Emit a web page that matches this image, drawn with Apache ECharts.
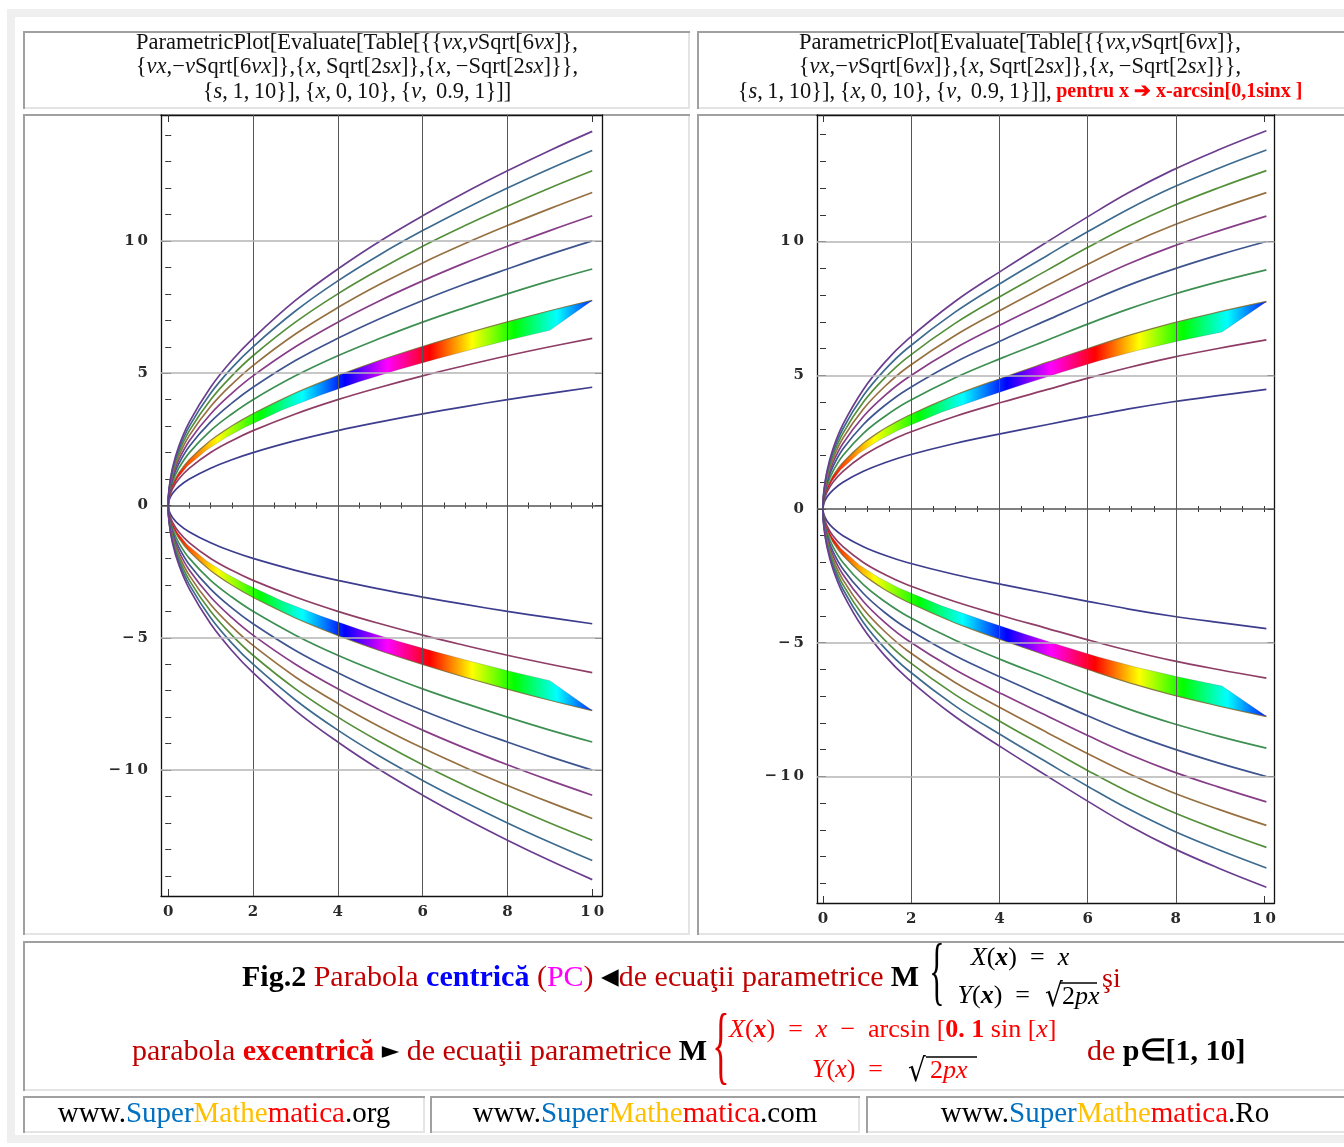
<!DOCTYPE html>
<html><head><meta charset="utf-8">
<script src="https://cdn.jsdelivr.net/npm/echarts@6/dist/echarts.min.js"></script>
<style>html,body{margin:0;padding:0;background:#fff}#c{width:1344px;height:1147px}</style>
</head><body><div id="c"></div>
<script>
// ---------------- data ----------------
const xSamples        = [0, 0.02, 0.1, 0.25, 0.5, 1, 1.5, 2, 3, 4, 5, 6, 7, 8, 9, 10];
const xSamplesShifted = [0, 0.018, 0.09, 0.225, 0.452, 0.916, 1.4, 1.909, 2.986, 4.076, 5.096, 6.028, 6.934, 7.901, 8.959, 10.054];
const curveS1  = [0, 0.2, 0.45, 0.71, 1, 1.41, 1.73, 2, 2.45, 2.83, 3.16, 3.46, 3.74, 4, 4.24, 4.47];
const curveS2  = [0, 0.28, 0.63, 1, 1.41, 2, 2.45, 2.83, 3.46, 4, 4.47, 4.9, 5.29, 5.66, 6, 6.32];
const curveS3  = [0, 0.35, 0.77, 1.22, 1.73, 2.45, 3, 3.46, 4.24, 4.9, 5.48, 6, 6.48, 6.93, 7.35, 7.75];
const curveS4  = [0, 0.4, 0.89, 1.41, 2, 2.83, 3.46, 4, 4.9, 5.66, 6.32, 6.93, 7.48, 8, 8.49, 8.94];
const curveS5  = [0, 0.45, 1, 1.58, 2.24, 3.16, 3.87, 4.47, 5.48, 6.32, 7.07, 7.75, 8.37, 8.94, 9.49, 10];
const curveS6  = [0, 0.49, 1.1, 1.73, 2.45, 3.46, 4.24, 4.9, 6, 6.93, 7.75, 8.49, 9.17, 9.8, 10.39, 10.95];
const curveS7  = [0, 0.53, 1.18, 1.87, 2.65, 3.74, 4.58, 5.29, 6.48, 7.48, 8.37, 9.17, 9.9, 10.58, 11.22, 11.83];
const curveS8  = [0, 0.57, 1.26, 2, 2.83, 4, 4.9, 5.66, 6.93, 8, 8.94, 9.8, 10.58, 11.31, 12, 12.65];
const curveS9  = [0, 0.6, 1.34, 2.12, 3, 4.24, 5.2, 6, 7.35, 8.49, 9.49, 10.39, 11.22, 12, 12.73, 13.42];
const curveS10 = [0, 0.63, 1.41, 2.24, 3.16, 4.47, 5.48, 6.32, 7.75, 8.94, 10, 10.95, 11.83, 12.65, 13.42, 14.14];
const bandUpperY        = [0, 0.35, 0.77, 1.22, 1.73, 2.45, 3, 3.46, 4.24, 4.9, 5.48, 6, 6.48, 6.93, 7.35, 7.75];
const bandLowerX        = [0, 0.018, 0.09, 0.225, 0.45, 0.9, 1.35, 1.8, 2.7, 3.6, 4.5, 5.4, 6.3, 7.2, 8.1, 9];
const bandLowerXShifted = [0, 0.016, 0.081, 0.203, 0.407, 0.824, 1.26, 1.718, 2.687, 3.668, 4.586, 5.425, 6.241, 7.111, 8.063, 9.049];
const bandLowerY        = [0, 0.3, 0.66, 1.04, 1.48, 2.09, 2.56, 2.95, 3.62, 4.18, 4.68, 5.12, 5.53, 5.92, 6.28, 6.62];
const xMajorTicks = [0, 2, 4, 6, 8, 10];
const xMinorTicks = [0, 0.5, 1, 1.5, 2, 2.5, 3, 3.5, 4, 4.5, 5, 5.5, 6, 6.5, 7, 7.5, 8, 8.5, 9, 9.5, 10];
const yMajorTicks = [-10, -5, 0, 5, 10];
const yMinorTicks = [-14, -13, -12, -11, -10, -9, -8, -7, -6, -5, -4, -3, -2, -1, 0, 1, 2, 3, 4, 5, 6, 7, 8, 9, 10, 11, 12, 13, 14];
const gridXValues = [2, 4, 6, 8];
const gridYValues = [-10, -5, 5, 10];

// ---------------- styles ----------------
const curves = [curveS1, curveS2, curveS3, curveS4, curveS5, curveS6, curveS7, curveS8, curveS9, curveS10];
const curveColors = ['#3d3d8f', '#8f3d66', '#8f833d', '#3d8f52', '#3d548f', '#873d87', '#967040', '#548f3a', '#3d6b8f', '#6b3d8f'];

const chart = echarts.init(document.getElementById('c'), null, {renderer: 'canvas', width: 1344, height: 1147});

const panels = [
  {grid: {left: 161, top: 115, width: 441, height: 781}, xmin: -0.17, xmax: 10.23, ymin: -14.76, ymax: 14.76, xs: xSamples, bandLX: bandLowerX},
  {grid: {left: 817, top: 115, width: 457.5, height: 788}, xmin: -0.136, xmax: 10.238, ymin: -14.73, ymax: 14.73, xs: xSamplesShifted, bandLX: bandLowerXShifted}
];

function spaced(v) {
  const s = String(Math.abs(v)).split('').join('\u2009');
  return v < 0 ? '\u2212\u2009' + s : s;
}
const labelStyle = {fontFamily: 'DejaVu Serif', fontSize: 15, fontWeight: 'bold', color: '#2a2a2a'};
const frameLine = {show: true, onZero: false, lineStyle: {color: '#111', width: 1.3}};

const grids = [], xAxes = [], yAxes = [], series = [];

const hueStops = [];
for (let i = 0; i <= 60; i++) {
  const h = ((60 * (i / 6) - 10) % 360 + 360) % 360;
  hueStops.push({offset: i / 60, color: 'hsl(' + h + ',100%,50%)'});
}

panels.forEach((p, gi) => {
  grids.push(p.grid);
  const base = gi * 4;
  const xa = (pos, major, showLine, showLabel) => ({
    type: 'value', gridIndex: gi, position: pos, min: p.xmin, max: p.xmax,
    axisLine: showLine ? frameLine : {show: false},
    axisTick: {show: true, inside: true, length: major ? 7 : 3, customValues: major ? xMajorTicks : xMinorTicks, lineStyle: {color: '#333', width: 1}},
    axisLabel: showLabel ? Object.assign({show: true, margin: 9, customValues: xMajorTicks, formatter: spaced}, labelStyle) : {show: false},
    splitLine: {show: false}
  });
  const ya = (pos, major, showLine, showLabel) => ({
    type: 'value', gridIndex: gi, position: pos, min: p.ymin, max: p.ymax,
    axisLine: showLine ? frameLine : {show: false},
    axisTick: {show: true, inside: true, length: major ? 7 : 3, customValues: major ? yMajorTicks : yMinorTicks, lineStyle: {color: '#333', width: 1}},
    axisLabel: showLabel ? Object.assign({show: true, margin: 13, customValues: yMajorTicks, formatter: spaced}, labelStyle) : {show: false},
    splitLine: {show: false}
  });
  xAxes.push(xa('bottom', true, true, true), xa('bottom', false, false, false), xa('top', true, true, false), xa('top', false, false, false));
  yAxes.push(ya('left', true, true, true), ya('left', false, false, false), ya('right', true, true, false), ya('right', false, false, false));

  // grid lines
  series.push({
    type: 'line', xAxisIndex: base, yAxisIndex: base, data: [[0, 0]], showSymbol: false, lineStyle: {opacity: 0}, z: 1, silent: true,
    markLine: {
      silent: true, symbol: ['none', 'none'], label: {show: false}, animation: false,
      data: gridXValues.map(v => ({xAxis: v, lineStyle: {color: '#555', width: 1, type: 'solid'}}))
        .concat(gridYValues.map(v => ({yAxis: v, lineStyle: {color: '#b4b4b4', width: 1.5, type: 'solid'}})))
        .concat([{yAxis: 0, lineStyle: {color: '#555', width: 1.5, type: 'solid'}}])
    }
  });
  // curves
  curves.forEach((c, k) => {
    [1, -1].forEach(sign => {
      series.push({
        type: 'line', xAxisIndex: base, yAxisIndex: base, showSymbol: false, smooth: 0.4,
        data: c.map((y, i) => [p.xs[i], sign * y]),
        lineStyle: {color: curveColors[k], width: 1.7}, z: 2, silent: true, animation: false
      });
    });
  });
  // rainbow band
  [1, -1].forEach(sign => {
    series.push({
      type: 'custom', xAxisIndex: base, yAxisIndex: base, data: [[0, 0]], z: 3, silent: true, animation: false,
      renderItem: function (params, api) {
        const pts = [];
        for (let i = 0; i < bandUpperY.length; i++) pts.push(api.coord([p.xs[i], sign * bandUpperY[i]]));
        for (let i = bandLowerY.length - 1; i >= 0; i--) pts.push(api.coord([p.bandLX[i], sign * bandLowerY[i]]));
        const x0 = api.coord([0, 0])[0], x1 = api.coord([10, 0])[0];
        return {
          type: 'polygon', shape: {points: pts, smooth: 0},
          style: {fill: new echarts.graphic.LinearGradient(x0, 0, x1, 0, hueStops, true), stroke: 'rgba(60,60,120,0.25)', lineWidth: 0.8}
        };
      }
    });
  });
});

// ---------------- page layout: cells and texts ----------------
const cells = [
  [23, 31, 667, 78], [697, 31, 660, 78],
  [23, 114, 667, 821], [697, 114, 660, 821],
  [23, 941, 1330, 150],
  [23, 1096, 402, 37], [430, 1096, 430, 37], [866, 1096, 490, 37]
];
const graphics = [];
graphics.push({type: 'rect', z: -2, shape: {x: 11, y: 13, width: 1360, height: 1126}, style: {fill: 'none', stroke: '#efefef', lineWidth: 8}});
cells.forEach(([x, y, w, h]) => {
  graphics.push({type: 'polyline', z: -1, shape: {points: [[x + w - 1, y + 1], [x + w - 1, y + h - 1], [x + 1, y + h - 1]]}, style: {stroke: '#e4e4e4', lineWidth: 2, fill: null}});
  graphics.push({type: 'polyline', z: -1, shape: {points: [[x + 1, y + h], [x + 1, y + 1], [x + w, y + 1]]}, style: {stroke: '#a0a0a0', lineWidth: 2, fill: null}});
});

function txt(x, y, text, style, extra) {
  return Object.assign({type: 'text', z: 100, x: x, y: y, style: Object.assign({text: text, verticalAlign: 'middle'}, style)}, extra || {});
}
const hdrBase = {fontFamily: 'Liberation Serif', fontSize: 22.5, fill: '#111', align: 'center'};
const hdrRich = {
  i: {fontFamily: 'Liberation Serif', fontSize: 22.5, fontStyle: 'italic', fill: '#111'},
  r: {fontFamily: 'Liberation Serif', fontSize: 20, fontWeight: 'bold', fill: '#ff0000'}
};
const sp = '\u2009';
const h1 = 'ParametricPlot[Evaluate[Table[{{{i|vx},{i|v}Sqrt[6{i|vx}]},';
const h2 = '{{i|vx},\u2212{i|v}Sqrt[6{i|vx}]},{{i|x},' + sp + 'Sqrt[2{i|sx}]},{{i|x},' + sp + '\u2212Sqrt[2{i|sx}]}},';
const h3 = '{{i|s},' + sp + '1,' + sp + '10}],' + sp + '{{i|x},' + sp + '0,' + sp + '10},' + sp + '{{i|v},' + sp + sp + '0.9,' + sp + '1}]]';
[[357, 0], [1020, 1]].forEach(([cx, k]) => {
  graphics.push(txt(cx, 43, h1, Object.assign({rich: hdrRich}, hdrBase)));
  graphics.push(txt(cx, 67, h2, Object.assign({rich: hdrRich}, hdrBase)));
  graphics.push(txt(cx, 92, k ? h3 + ',' + sp + '{r|pentru x \u2794 x-arcsin[0,1sinx ]}' : h3, Object.assign({rich: hdrRich}, hdrBase)));
});

const capFont = 'Liberation Serif';
const red = '#c00000';
const capRich = {
  b: {fontFamily: capFont, fontSize: 30, fontWeight: 'bold', fill: '#000'},
  r: {fontFamily: capFont, fontSize: 30, fill: red},
  rb: {fontFamily: capFont, fontSize: 30, fontWeight: 'bold', fill: '#ee0000'},
  bl: {fontFamily: capFont, fontSize: 30, fontWeight: 'bold', fill: '#0000ff'},
  m: {fontFamily: capFont, fontSize: 30, fill: '#ff00ff'},
  k: {fontFamily: 'DejaVu Sans', fontSize: 23, fill: '#000'}
};
graphics.push(txt(242, 978, '{b|Fig.2}{r| Parabola }{bl|centric\u0103}{r| (}{m|PC}{r|) }{k|\u25C0}{r|de ecua\u0163ii parametrice}', {rich: capRich, align: 'left'}));
graphics.push(txt(919, 978, 'M', {fontFamily: capFont, fontSize: 30, fontWeight: 'bold', fill: '#000', align: 'right'}));
graphics.push(txt(132, 1052, '{r|parabola }{rb|excentric\u0103}{k| \u25BA }{r|de ecua\u0163ii parametrice}', {rich: capRich, align: 'left'}));
graphics.push(txt(707, 1052, 'M', {fontFamily: capFont, fontSize: 30, fontWeight: 'bold', fill: '#000', align: 'right'}));
graphics.push(txt(1102, 980, '\u015Fi', {fontFamily: capFont, fontSize: 28, fill: red, align: 'left'}));
graphics.push(txt(1087, 1052, '{r|de }{b|p\u2208[1, 10]}', {rich: capRich, align: 'left'}));

// braces
graphics.push(txt(937, 976, '{', {fontFamily: capFont, fontSize: 76, fill: '#000', align: 'center'}, {scaleX: 0.42}));
graphics.push(txt(721, 1050, '{', {fontFamily: capFont, fontSize: 86, fill: '#e00000', align: 'center'}, {scaleX: 0.42}));

// formulas
const fK = {fontFamily: capFont, fontSize: 26, fill: '#000'};
const fRich = (col) => ({
  i: {fontFamily: capFont, fontSize: 26, fontStyle: 'italic', fill: col},
  bi: {fontFamily: capFont, fontSize: 26, fontStyle: 'italic', fontWeight: 'bold', fill: col},
  b: {fontFamily: capFont, fontSize: 26, fontWeight: 'bold', fill: col},
  n: {fontFamily: capFont, fontSize: 26, fill: col}
});
graphics.push(txt(1020, 958, '{i|X}{n|(}{bi|x}{n|)  =  }{i|x}', Object.assign({rich: fRich('#000'), align: 'center'}, fK)));
graphics.push(txt(1043, 996, '{i|Y}{n|(}{bi|x}{n|)  =  }', Object.assign({rich: fRich('#000'), align: 'right'}, fK)));
graphics.push(txt(1045, 998, '\u221A', {fontFamily: 'DejaVu Sans', fontSize: 28, fill: '#000', align: 'left'}, {scaleY: 1.15}));
graphics.push(txt(1062, 997, '{n|2}{i|px}', Object.assign({rich: fRich('#000'), align: 'left'}, fK)));
graphics.push({type: 'line', z: 100, shape: {x1: 1060, y1: 983, x2: 1097, y2: 983}, style: {stroke: '#000', lineWidth: 1.3}});

const fR = {fontFamily: capFont, fontSize: 26, fill: '#ff0000'};
graphics.push(txt(729, 1030, '{i|X}{n|(}{bi|x}{n|)  =  }{i|x}{n|  \u2212  arcsin [}{b|0. 1}{n| sin [}{i|x}{n|]}', Object.assign({rich: fRich('#ff0000'), align: 'left'}, fR)));
graphics.push(txt(896, 1070, '{i|Y}{n|(}{i|x}{n|)  =  }', Object.assign({rich: fRich('#ff0000'), align: 'right'}, fR)));
graphics.push(txt(908, 1073, '\u221A', {fontFamily: 'DejaVu Sans', fontSize: 28, fill: '#000', align: 'left'}, {scaleY: 1.15}));
graphics.push(txt(930, 1071, '{n|2}{i|px}', Object.assign({rich: fRich('#ff0000'), align: 'left'}, fR)));
graphics.push({type: 'line', z: 100, shape: {x1: 926, y1: 1057, x2: 977, y2: 1057}, style: {stroke: '#000', lineWidth: 1.3}});

// footer links
const ftRich = {
  k: {fontFamily: capFont, fontSize: 29, fill: '#000'},
  s: {fontFamily: capFont, fontSize: 29, fill: '#0070c0'},
  g: {fontFamily: capFont, fontSize: 29, fill: '#ffc000'},
  r: {fontFamily: capFont, fontSize: 29, fill: '#ff0000'}
};
[[224, '.org'], [645, '.com'], [1105, '.Ro']].forEach(([cx, end]) => {
  graphics.push(txt(cx, 1114, '{k|www.}{s|Super}{g|Mathe}{r|matica}{k|' + end + '}', {rich: ftRich, align: 'center'}));
});

chart.setOption({
  animation: false,
  backgroundColor: '#ffffff',
  grid: grids,
  xAxis: xAxes,
  yAxis: yAxes,
  series: series,
  graphic: {elements: graphics}
});
</script>
</body></html>
